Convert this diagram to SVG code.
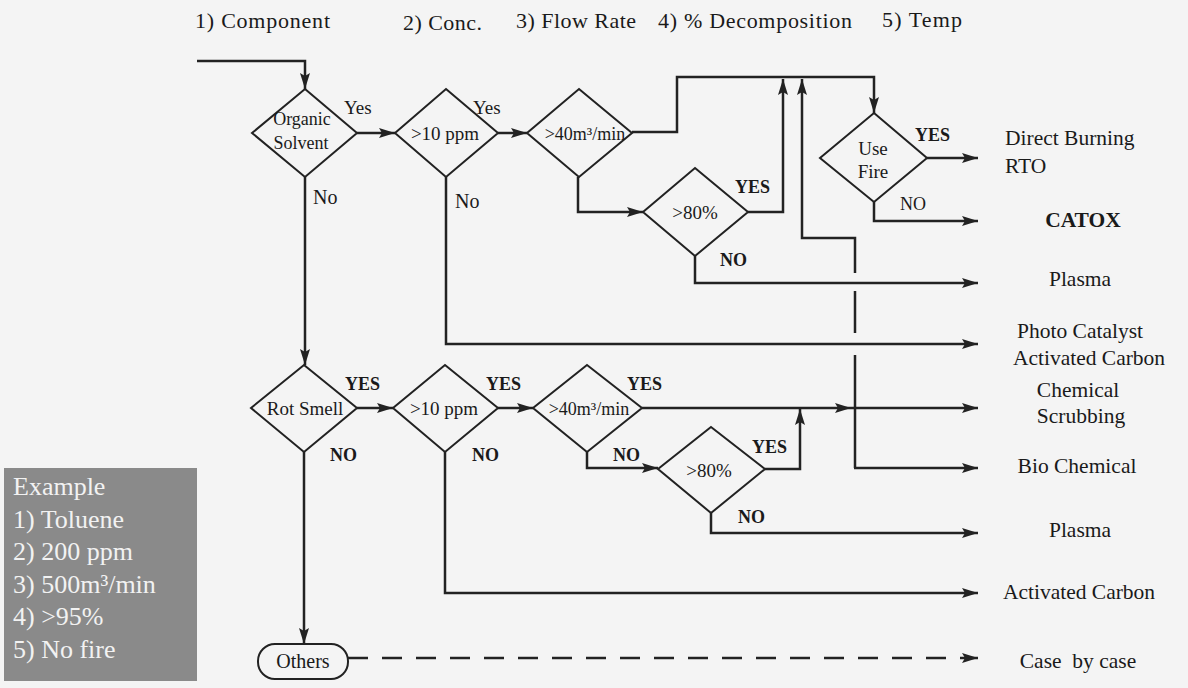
<svg xmlns="http://www.w3.org/2000/svg" width="1188" height="688" viewBox="0 0 1188 688" font-family="Liberation Serif, Times New Roman, serif">
<style>
.bg{fill:#f4f4f4}
.dm{fill:none;stroke:#222;stroke-width:2}
.cn{fill:none;stroke:#222;stroke-width:2.5}
.ar{fill:none;stroke:#222;stroke-width:2.5;marker-end:url(#ah)}
.ds{stroke-dasharray:20 14}
</style>
<defs>
<marker id="ah" viewBox="0 0 16 10" refX="16" refY="5" markerWidth="16" markerHeight="10" markerUnits="userSpaceOnUse" orient="auto">
<path d="M0,0 L16,5 L0,10 L3,5 z" fill="#222"/>
</marker>
</defs>
<rect class="bg" x="0" y="0" width="1188" height="688"/>

<g id="header" font-family="Liberation Serif, serif" font-size="22" fill="#1a1a1a">
<text x="195" y="28" textLength="135">1) Component</text>
<text x="403" y="30" textLength="79">2) Conc.</text>
<text x="516" y="28" textLength="120">3) Flow Rate</text>
<text x="658" y="28" textLength="194">4) % Decomposition</text>
<text x="882" y="27" textLength="80">5) Temp</text>
</g>

<g id="connectors">
<path class="ar" d="M197,61 H305 V89"/>
<path class="ar" d="M357,133 H395"/>
<path class="ar" d="M498,133 H527"/>
<path class="ar" d="M632,132 H677 V77 H874 V113"/>
<path class="ar" d="M927,158 H978"/>
<path class="ar" d="M874,202 V221 H978"/>
<path class="ar" d="M578,177 V212 H643"/>
<path class="ar" d="M748,212 H783 V79"/>
<path class="ar" d="M695,256 V283 H978"/>
<path class="cn" d="M855,468 V355"/>
<path class="cn" d="M855,333 V291"/>
<path class="ar" d="M855,273 V238 H802 V79"/>
<path class="ar" d="M854,468 H978"/>
<path class="ar" d="M446,177 V344 H978"/>
<path class="ar" d="M305,177 V365"/>
<path class="ar" d="M357,408 H393"/>
<path class="ar" d="M498,408 H533"/>
<path class="ar" d="M642,408 H851"/>
<path class="ar" d="M851,408 H978"/>
<path class="ar" d="M587,452 V468 H658"/>
<path class="ar" d="M765,469 H800 V409"/>
<path class="ar" d="M711,513 V533 H978"/>
<path class="ar" d="M445,452 V593 H978"/>
<path class="ar" d="M304,452 V644"/>
<path class="ar ds" d="M348,658 H978"/>
</g>

<g id="edge-labels" font-family="Liberation Serif, serif" fill="#1a1a1a">
<g font-size="19">
<text x="344" y="114">Yes</text>
<text x="473" y="114">Yes</text>
</g>
<g font-size="20">
<text x="313" y="204">No</text>
<text x="455" y="208">No</text>
</g>
<text x="900" y="210" font-size="18">NO</text>
<g font-size="18" font-weight="bold">
<text x="915" y="141">YES</text>
<text x="735" y="193">YES</text>
<text x="720" y="266">NO</text>
<text x="345" y="390">YES</text>
<text x="486" y="390">YES</text>
<text x="627" y="390">YES</text>
<text x="330" y="461">NO</text>
<text x="472" y="461">NO</text>
<text x="613" y="461">NO</text>
<text x="752" y="453">YES</text>
<text x="738" y="523">NO</text>
</g>
</g>

<g id="nodes" font-family="Liberation Serif, serif" font-size="19" text-anchor="middle" fill="#1a1a1a">
<g id="n-organic">
<polygon class="dm" points="305,89 357,133 305,177 252,133"/>
<text x="302" y="125" font-size="18">Organic</text>
<text x="301" y="149" font-size="18">Solvent</text>
</g>
<g id="n-ppm1">
<polygon class="dm" points="446,89 498,133 446,177 395,133"/>
<text x="445" y="140">&gt;10 ppm</text>
</g>
<g id="n-flow1">
<polygon class="dm" points="579,89 632,133 579,177 527,133"/>
<text x="585" y="140" font-size="18">&gt;40m³/min</text>
</g>
<g id="n-decomp1">
<polygon class="dm" points="695,168 748,212 695,256 643,212"/>
<text x="695" y="219">&gt;80%</text>
</g>
<g id="n-fire">
<polygon class="dm" points="874,113 927,158 874,202 820,158"/>
<text x="873" y="155">Use</text>
<text x="873" y="178">Fire</text>
</g>
<g id="n-rot">
<polygon class="dm" points="304,365 357,408 304,452 251,408"/>
<text x="305" y="415">Rot Smell</text>
</g>
<g id="n-ppm2">
<polygon class="dm" points="445,365 498,408 445,452 393,408"/>
<text x="444" y="415">&gt;10 ppm</text>
</g>
<g id="n-flow2">
<polygon class="dm" points="587,365 642,408 587,452 533,408"/>
<text x="589" y="415" font-size="18">&gt;40m³/min</text>
</g>
<g id="n-decomp2">
<polygon class="dm" points="711,427 765,469 711,513 658,469"/>
<text x="709" y="477">&gt;80%</text>
</g>
<g id="n-others">
<rect class="dm" x="258" y="644" width="90" height="35" rx="17"/>
<text x="303" y="668" font-size="20">Others</text>
</g>
</g>

<g id="results" font-family="Liberation Serif, serif" font-size="21.5" text-anchor="middle" fill="#1a1a1a">
<text x="1005" y="145" text-anchor="start">Direct Burning</text>
<text x="1005" y="173" text-anchor="start">RTO</text>
<text x="1083" y="227" font-weight="bold">CATOX</text>
<text x="1080" y="286">Plasma</text>
<text x="1080" y="338">Photo Catalyst</text>
<text x="1089" y="365">Activated Carbon</text>
<text x="1078" y="397">Chemical</text>
<text x="1081" y="423">Scrubbing</text>
<text x="1077" y="473">Bio Chemical</text>
<text x="1080" y="537">Plasma</text>
<text x="1079" y="599">Activated Carbon</text>
<text x="1078" y="668" xml:space="preserve">Case  by case</text>
</g>

<g id="example" font-family="Liberation Serif, serif" font-size="26" fill="#f2f2f2">
<rect x="4" y="468" width="193" height="213" fill="#8a8a8a"/>
<text x="13" y="495">Example</text>
<text x="13" y="528">1) Toluene</text>
<text x="13" y="560">2) 200 ppm</text>
<text x="13" y="593">3) 500m³/min</text>
<text x="13" y="625">4) &gt;95%</text>
<text x="13" y="658">5) No fire</text>
</g>
</svg>
